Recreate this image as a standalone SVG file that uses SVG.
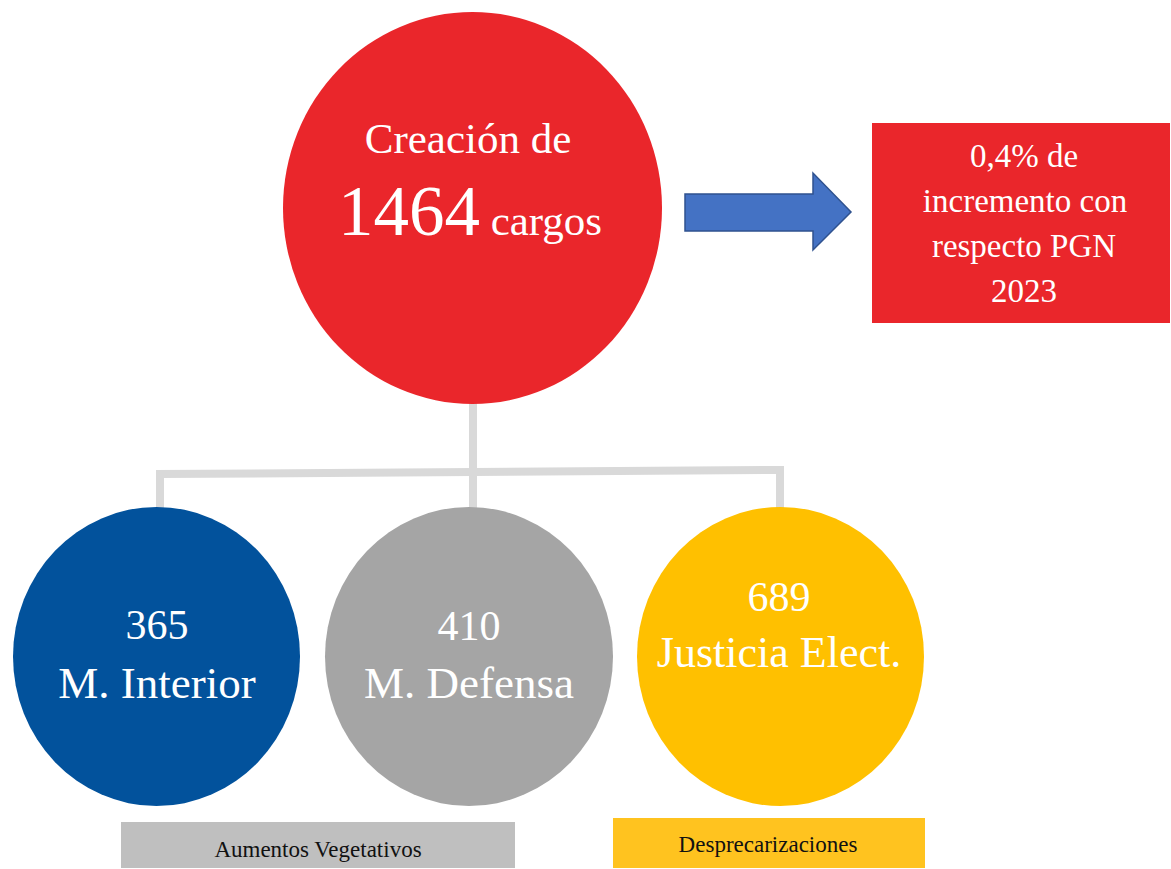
<svg xmlns="http://www.w3.org/2000/svg" width="1171" height="869" viewBox="0 0 1171 869">
<style>
text{font-family:"Liberation Serif","Times New Roman",serif;text-anchor:middle}
.w{fill:#ffffff}
.k{fill:#111111}
.conn{fill:none;stroke:#D9D9D9;stroke-width:8}
</style>
<rect width="1171" height="869" fill="#ffffff"/>
<g id="connectors">
<path class="conn" d="M473,400 V472"/>
<path class="conn" d="M160,512 V474 L780,470 V522"/>
<path class="conn" d="M473,472 V512"/>
<path d="M685,194 H813 V173 L851,212 L813,250 V231 H685 Z" fill="#4472C4" stroke="#2F528F" stroke-width="1.5"/>
</g>
<g id="node-total">
<ellipse cx="472.5" cy="208" rx="189.5" ry="196" fill="#EA262B"/>
<text class="w" x="468" y="153" font-size="43">Creación de</text>
<text class="w" x="470" y="235"><tspan font-size="71">1464</tspan><tspan font-size="43"> cargos</tspan></text>
</g>
<g id="node-incremento">
<rect x="872" y="123" width="298" height="200" fill="#EA262B"/>
<text class="w" x="1024" y="167" font-size="33">0,4% de</text>
<text class="w" x="1025" y="212" font-size="33">incremento con</text>
<text class="w" x="1024" y="257" font-size="33">respecto PGN</text>
<text class="w" x="1024" y="302" font-size="33">2023</text>
</g>
<g id="node-interior">
<ellipse cx="156.5" cy="656.5" rx="143.5" ry="149.5" fill="#02529C"/>
<text class="w" x="157" y="639" font-size="42">365</text>
<text class="w" x="157" y="698" font-size="45">M. Interior</text>
</g>
<g id="node-defensa">
<ellipse cx="469" cy="656.5" rx="144" ry="149.5" fill="#A5A5A5"/>
<text class="w" x="469" y="640" font-size="42">410</text>
<text class="w" x="469" y="698" font-size="45">M. Defensa</text>
</g>
<g id="node-justicia">
<ellipse cx="780.5" cy="656.5" rx="143.5" ry="149.5" fill="#FFC000"/>
<text class="w" x="779" y="611" font-size="42">689</text>
<text class="w" x="779" y="667" font-size="44">Justicia Elect.</text>
</g>
<g id="label-aumentos">
<rect x="121" y="822" width="394" height="46" fill="#BFBFBF"/>
<text class="k" x="318" y="857" font-size="23">Aumentos Vegetativos</text>
</g>
<g id="label-desprecarizaciones">
<rect x="613" y="818" width="312" height="50" fill="#FFC31F"/>
<text class="k" x="768" y="852" font-size="23">Desprecarizaciones</text>
</g>
</svg>
